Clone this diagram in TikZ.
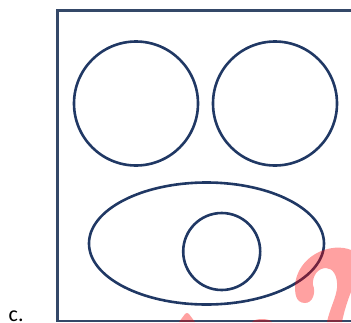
\documentclass[tikz,border=0pt]{standalone}
\usepackage{fontspec}
\newfontfamily\labelfont{Carlito}
\definecolor{navy}{RGB}{32,56,100}
\definecolor{framecol}{RGB}{52,72,104}
\definecolor{wm}{RGB}{255,0,0}
\tikzset{
  shapeline/.style={draw=navy, line width=2.6pt},
  framebox/.style={draw=framecol, line width=2.1pt},
  watermark/.style={fill=wm, fill opacity=0.37, draw=none}
}
\begin{document}
\begin{tikzpicture}[x=1pt,y=-1pt]
\useasboundingbox (0,0) rectangle (351,322);
% frame
\draw[framebox] (57.5,10.5) rectangle (362,321);
% shapes
\node[shapeline, circle, minimum size=124pt, inner sep=0pt] (c1) at (136,103.5) {};
\node[shapeline, circle, minimum size=124pt, inner sep=0pt] (c2) at (275,103.5) {};
\draw[shapeline] (206.5,243.5) ellipse [x radius=117.5pt, y radius=61pt];
\coordinate (e) at (206.5,243.5);
\node[shapeline, circle, minimum size=77pt, inner sep=0pt] (c3) at (221.7,251.5) {};
% label
\node[anchor=base west, inner sep=0pt, font=\labelfont\fontsize{22}{26}\selectfont] (lab) at (8.5,321) {c.};
% watermark fragments
\fill[watermark] (296,296) .. controls (292,280) and (300,262) .. (317,253)
  .. controls (328,247) and (342,246) .. (351,250) -- (351,292)
  .. controls (347,302) and (344,312) .. (342,322) -- (327,322)
  .. controls (330,308) and (336,298) .. (337,288)
  .. controls (338,276) and (333,268) .. (326,268)
  .. controls (318,268) and (312,276) .. (313,285)
  .. controls (316,292) and (313,303) .. (305,303)
  .. controls (300,303) and (297,300) .. (296,296) -- cycle;
\fill[watermark] (179,322) -- (185,314) .. controls (186.5,312.5) and (187.5,312.5) .. (189,314) -- (195,322) -- cycle;
\fill[watermark] (252,322) .. controls (255,318) and (269,318) .. (272,322) -- cycle;
\end{tikzpicture}
\end{document}
